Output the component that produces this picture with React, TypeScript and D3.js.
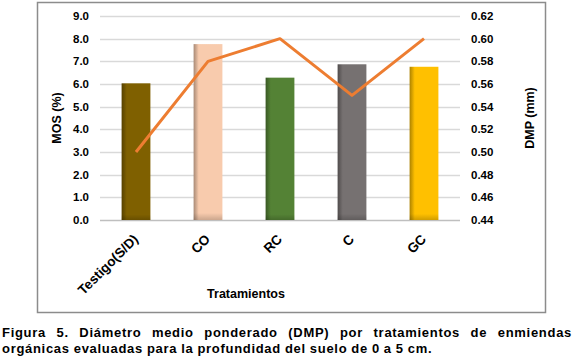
import React, { useRef, useEffect } from 'react';
import * as d3 from 'd3';

const W = 584;
const H = 364;

const categories = ['Testigo(S/D)', 'CO', 'RC', 'C', 'GC'];
const mosValues = [6.03, 7.76, 6.28, 6.87, 6.76];
const dmpValues = [0.5, 0.58, 0.6, 0.55, 0.6];
const barColors = ['#7F6000', '#F8CBAD', '#548235', '#767171', '#FFC000'];
const leftTicks = [0, 1, 2, 3, 4, 5, 6, 7, 8, 9];
const rightTicks = [0.44, 0.46, 0.48, 0.5, 0.52, 0.54, 0.56, 0.58, 0.6, 0.62];
const captionLines = [
  'Figura 5. Diámetro medio ponderado (DMP) por tratamientos de enmiendas',
  'orgánicas evaluadas para la profundidad del suelo de 0 a 5 cm.',
];

const FONT = 'Liberation Sans, Arial, sans-serif';

const App: React.FC = () => {
  const svgRef = useRef<SVGSVGElement>(null);

  useEffect(() => {
    if (!svgRef.current) return;
    const svg = d3.select(svgRef.current);
    svg.selectAll('*').remove();

    const plot = { left: 100, right: 460, top: 16, bottom: 220 };

    const x = d3.scaleBand().domain(categories).range([plot.left, plot.right]).paddingInner(0.6).paddingOuter(0.3);
    const yL = d3.scaleLinear().domain([0, 9]).range([plot.bottom, plot.top]);
    const yR = d3.scaleLinear().domain([0.44, 0.62]).range([plot.bottom, plot.top]);
    const center = (c: string) => (x(c) ?? 0) + x.bandwidth() / 2;

    // bar shading: darker left edge + faint shadow at the bottom
    const defs = svg.append('defs');
    barColors.forEach((c, i) => {
      const g = defs.append('linearGradient').attr('id', `bg${i}`).attr('x1', 0).attr('x2', 1).attr('y1', 0).attr('y2', 0);
      const dark = d3.color(c)!.darker(1.1).formatHex();
      g.append('stop').attr('offset', '0%').attr('stop-color', dark);
      g.append('stop').attr('offset', '18%').attr('stop-color', c);
      g.append('stop').attr('offset', '100%').attr('stop-color', c);
      const v = defs.append('linearGradient').attr('id', `bv${i}`).attr('x1', 0).attr('x2', 0).attr('y1', 0).attr('y2', 1);
      v.append('stop').attr('offset', '0%').attr('stop-color', '#000').attr('stop-opacity', 0);
      v.append('stop').attr('offset', '96%').attr('stop-color', '#000').attr('stop-opacity', 0);
      v.append('stop').attr('offset', '100%').attr('stop-color', '#000').attr('stop-opacity', 0.18);
    });

    // frame
    svg.append('rect')
      .attr('x', 37.5).attr('y', 2.5).attr('width', 508).attr('height', 310)
      .attr('fill', '#fff').attr('stroke', '#8c8c8c').attr('stroke-width', 1.5);

    // gridlines
    svg.append('g').selectAll('line').data(leftTicks).join('line')
      .attr('x1', plot.left).attr('x2', plot.right)
      .attr('y1', (d) => Math.round(yL(d)) + 0.5).attr('y2', (d) => Math.round(yL(d)) + 0.5)
      .attr('stroke', (d) => (d === 0 ? '#bfbfbf' : '#d9d9d9')).attr('stroke-width', 1.5);

    // bars
    categories.forEach((c, i) => {
      const bx = x(c) ?? 0;
      const by = yL(mosValues[i]);
      svg.append('rect').attr('x', bx).attr('y', by).attr('width', x.bandwidth()).attr('height', plot.bottom - by)
        .attr('fill', `url(#bg${i})`);
      svg.append('rect').attr('x', bx).attr('y', by).attr('width', x.bandwidth()).attr('height', plot.bottom - by)
        .attr('fill', `url(#bv${i})`);
    });

    // DMP line on the right axis
    const line = d3.line<number>().x((_, i) => center(categories[i])).y((d) => yR(d));
    svg.append('path').attr('d', line(dmpValues) ?? '')
      .attr('fill', 'none').attr('stroke', '#ED7D31').attr('stroke-width', 3).attr('stroke-linejoin', 'round');

    const bold = (sel: any, size: string) =>
      sel.attr('font-family', FONT).attr('font-weight', 'bold').attr('font-size', size).attr('fill', '#000');

    svg.append('g').selectAll('text').data(leftTicks).join('text')
      .attr('x', 89).attr('y', (d) => yL(d) + 4).attr('text-anchor', 'end')
      .text((d) => d.toFixed(1)).call(bold, '11.5px');

    svg.append('g').selectAll('text').data(rightTicks).join('text')
      .attr('x', 471).attr('y', (d) => yR(d) + 4).attr('text-anchor', 'start')
      .text((d) => d.toFixed(2)).call(bold, '11.5px');

    // category labels, rotated 45°
    svg.append('g').selectAll('text').data(categories).join('text')
      .attr('text-anchor', 'end')
      .attr('transform', (d) => `translate(${center(d) + 3},${plot.bottom + 20}) rotate(-45)`)
      .text((d) => d).call(bold, '13.5px');

    // axis titles
    svg.append('text').attr('transform', `translate(61,${(plot.top + plot.bottom) / 2}) rotate(-90)`)
      .attr('text-anchor', 'middle').text('MOS (%)').call(bold, '12.5px');
    svg.append('text').attr('transform', `translate(534,${(plot.top + plot.bottom) / 2}) rotate(-90)`)
      .attr('text-anchor', 'middle').text('DMP (mm)').call(bold, '12.5px');
    svg.append('text').attr('x', 246).attr('y', 298)
      .attr('text-anchor', 'middle').text('Tratamientos').call(bold, '12.5px');

    // caption: first line justified, second line left aligned
    const capY = [337, 353];
    captionLines.forEach((ln, li) => {
      const words = ln.split(' ');
      const g = svg.append('g');
      const nodes = words.map((w) =>
        g.append('text').attr('y', capY[li]).text(w).call(bold, '13px').attr('letter-spacing', '0.7px'));
      const widths = nodes.map((n) => (n.node() as SVGTextElement).getComputedTextLength());
      const total = d3.sum(widths);
      const left = 2;
      const right = 572;
      const gap = li === 0 ? (right - left - total) / (words.length - 1) : 4;
      let cx = left;
      nodes.forEach((n, k) => {
        n.attr('x', cx);
        cx += widths[k] + gap;
      });
    });
  }, []);

  return (
    <svg ref={svgRef} width={W} height={H} style={{ position: 'absolute', left: 0, top: 0, background: '#fff' }} />
  );
};

export default App;
